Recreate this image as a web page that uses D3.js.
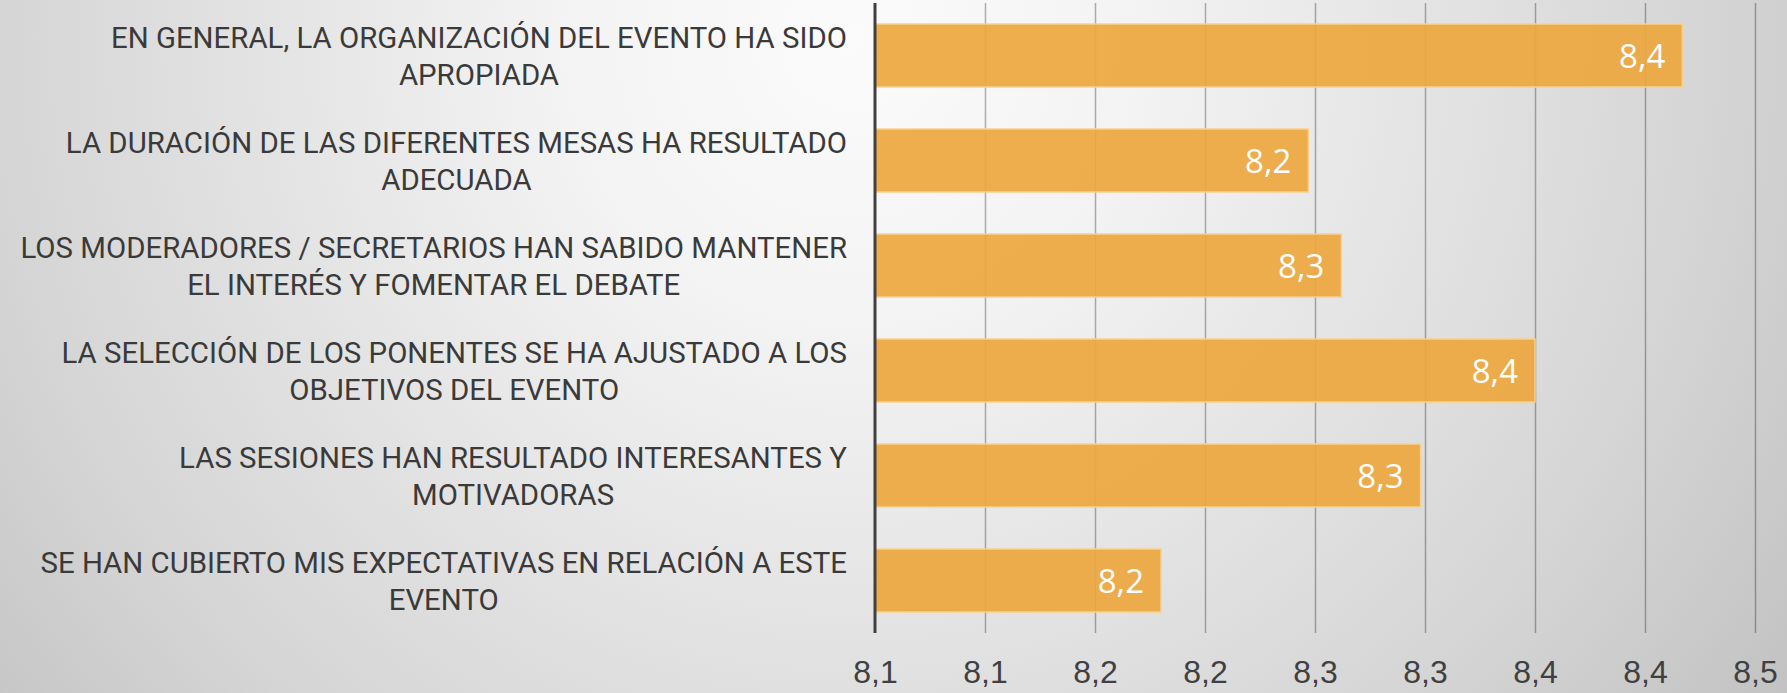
<!DOCTYPE html>
<html>
<head>
<meta charset="utf-8">
<script src="https://cdn.jsdelivr.net/npm/d3@7"></script>
<style>
  html, body { margin: 0; padding: 0; overflow: hidden; }
  svg { display: block; }
</style>
</head>
<body>
<main></main>
<script>
const width = 1787;
const height = 693;

// each category is two lines, as in the original
const categories = [
  ["EN GENERAL, LA ORGANIZACIÓN DEL EVENTO HA SIDO", "APROPIADA"],
  ["LA DURACIÓN DE LAS DIFERENTES MESAS HA RESULTADO", "ADECUADA"],
  ["LOS MODERADORES / SECRETARIOS HAN SABIDO MANTENER", "EL INTERÉS Y FOMENTAR EL DEBATE"],
  ["LA SELECCIÓN DE LOS PONENTES SE HA AJUSTADO A LOS", "OBJETIVOS DEL EVENTO"],
  ["LAS SESIONES HAN RESULTADO INTERESANTES Y", "MOTIVADORAS"],
  ["SE HAN CUBIERTO MIS EXPECTATIVAS EN RELACIÓN A ESTE", "EVENTO"]
];
const values = [8.467, 8.297, 8.312, 8.40, 8.348, 8.230];
const valueLabels = ["8,4", "8,2", "8,3", "8,4", "8,3", "8,2"];
const tickValues = [8.1, 8.15, 8.2, 8.25, 8.3, 8.35, 8.4, 8.45, 8.5];
const tickLabels = ["8,1", "8,1", "8,2", "8,2", "8,3", "8,3", "8,4", "8,4", "8,5"];

const margin = {top: 3, left: 875, right: 32, bottom: 60};

const svg = d3.select('main').append('svg')
    .attr('width', width)
    .attr('height', height);

// background
const defs = svg.append('defs');
const grad = defs.append('radialGradient')
    .attr('id', 'bg')
    .attr('gradientUnits', 'userSpaceOnUse')
    .attr('cx', 850).attr('cy', 40).attr('r', 1160);
grad.append('stop').attr('offset', 0).attr('stop-color', '#fbfbfb');
grad.append('stop').attr('offset', 0.25).attr('stop-color', '#f3f3f3');
grad.append('stop').attr('offset', 0.74).attr('stop-color', '#d5d5d5');
grad.append('stop').attr('offset', 1).attr('stop-color', '#c1c1c1');

svg.append('rect')
    .attr('width', width).attr('height', height)
    .attr('fill', 'url(#bg)');

const x = d3.scaleLinear()
    .domain([8.1, 8.5])
    .range([margin.left, width - margin.right]);

const y = d3.scaleBand()
    .domain(d3.range(categories.length))
    .range([margin.top, height - margin.bottom])
    .paddingInner(0.4)
    .paddingOuter(0.2);

const plotBottom = height - margin.bottom;

// gridlines
const grid = svg.append('g')
    .attr('transform', `translate(0,${plotBottom})`)
    .call(d3.axisBottom(x)
      .tickValues(tickValues.slice(1))
      .tickSize(-(plotBottom - margin.top))
      .tickFormat(''));
grid.select('.domain').remove();
grid.selectAll('.tick line')
    .attr('stroke', '#000')
    .attr('stroke-opacity', 0.3)
    .attr('stroke-width', 1.5);

// tick labels
const xAxis = svg.append('g')
    .attr('transform', `translate(0,${plotBottom})`)
    .call(d3.axisBottom(x)
      .tickValues(tickValues)
      .tickSize(0)
      .tickPadding(27)
      .tickFormat((d, i) => tickLabels[i]));
xAxis.select('.domain').remove();
xAxis.selectAll('text')
    .attr('font-family', '"Liberation Sans", Arial, sans-serif')
    .attr('font-size', 32)
    .attr('fill', '#404040');

// bars
svg.append('g')
  .selectAll('rect')
  .data(values)
  .enter().append('rect')
    .attr('x', x(8.1))
    .attr('y', (d, i) => y(i))
    .attr('width', d => x(d) - x(8.1))
    .attr('height', y.bandwidth())
    .attr('fill', '#eea73f')
    .attr('fill-opacity', 0.92)
    .attr('stroke', '#f6d18e')
    .attr('stroke-width', 1.5);

// value labels
svg.append('g')
  .selectAll('text')
  .data(values)
  .enter().append('text')
    .attr('x', d => x(d) - 17)
    .attr('y', (d, i) => y(i) + y.bandwidth() / 2 + 12)
    .attr('text-anchor', 'end')
    .attr('font-family', '"Open Sans", sans-serif')
    .attr('font-size', 33)
    .attr('fill', '#fff')
    .text((d, i) => valueLabels[i]);

// vertical axis line
svg.append('line')
    .attr('x1', x(8.1)).attr('x2', x(8.1))
    .attr('y1', margin.top).attr('y2', plotBottom)
    .attr('stroke', '#404040')
    .attr('stroke-width', 3);

// category labels: first line right aligned, second centred under it
const labelRight = margin.left - 28;
const labels = svg.append('g')
  .selectAll('g')
  .data(categories)
  .enter().append('g');

labels.each(function(lines, i) {
  const g = d3.select(this);
  const cy = y(i) + y.bandwidth() / 2;
  const first = g.append('text')
      .attr('x', labelRight)
      .attr('y', cy - 18.5 + 11)
      .attr('text-anchor', 'end')
      .attr('font-family', 'Roboto, sans-serif')
      .attr('font-size', 29.4)
      .attr('fill', '#3a3a3a')
      .text(lines[0]);
  const w = first.node().getComputedTextLength();
  g.append('text')
      .attr('x', labelRight - w / 2)
      .attr('y', cy + 18.5 + 11)
      .attr('text-anchor', 'middle')
      .attr('font-family', 'Roboto, sans-serif')
      .attr('font-size', 29.4)
      .attr('fill', '#3a3a3a')
      .text(lines[1]);
});
</script>
</body>
</html>
